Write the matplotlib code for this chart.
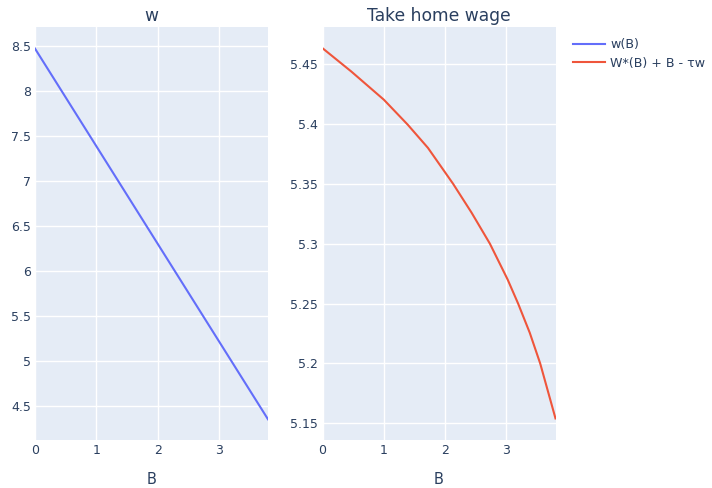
import numpy as np
import matplotlib
matplotlib.use("Agg")
import matplotlib.pyplot as plt
from matplotlib.ticker import FuncFormatter
from matplotlib.lines import Line2D

# Data
B_w = [0.0, 3.8]
w_vals = [8.47, 4.35]

B_th = [0.0, 0.47, 1.0, 1.39, 1.72, 2.13, 2.43, 2.73, 3.02, 3.19, 3.38, 3.55, 3.8]
th_vals = [5.4633, 5.4438, 5.4203, 5.3994, 5.380, 5.350, 5.326, 5.300, 5.270, 5.250, 5.2256, 5.200, 5.154]

x_ticks = [0, 1, 2, 3]
y1_ticks = [4.5, 5, 5.5, 6, 6.5, 7, 7.5, 8, 8.5]
y2_ticks = [5.15, 5.2, 5.25, 5.3, 5.35, 5.4, 5.45]

titles = ["w", "Take home wage"]
labels = ["w(B)", "W*(B) + B - τw"]

BG = "#E5ECF6"
TXT = "#2a3f5f"
C1 = "#636EFA"
C2 = "#EF553B"

plt.rcParams['font.family'] = ['DejaVu Sans']

fig = plt.figure(figsize=(7.12, 4.88), dpi=100)
ax1 = fig.add_axes([35/712, 1-440/488, 233/712, 413/488])
ax2 = fig.add_axes([322.5/712, 1-440/488, 233/712, 413/488])

fmt = FuncFormatter(lambda v, p: ('%g' % round(v, 4)))

for ax in (ax1, ax2):
    ax.set_facecolor(BG)
    for s in ax.spines.values():
        s.set_visible(False)
    ax.grid(True, color="white", linewidth=1.0)
    ax.set_axisbelow(True)
    ax.tick_params(length=0, colors=TXT, labelsize=9)
    ax.tick_params(axis='x', pad=3)
    ax.tick_params(axis='y', pad=3)
    ax.set_xlim(0, 3.8)
    ax.set_xticks(x_ticks)
    ax.yaxis.set_major_formatter(fmt)
    ax.set_xlabel("B", color=TXT, fontsize=10.5, labelpad=11)

ax1.plot(B_w, w_vals, color=C1, linewidth=1.5)
ax1.set_ylim(4.12, 8.71)
ax1.set_yticks(y1_ticks)
ax1.set_title(titles[0], color=TXT, fontsize=12.3, pad=4)

ax2.plot(B_th, th_vals, color=C2, linewidth=1.5)
ax2.set_ylim(5.136, 5.481)
ax2.set_yticks(y2_ticks)
ax2.set_title(titles[1], color=TXT, fontsize=12.3, pad=4)

handles = [Line2D([0], [0], color=C1, linewidth=1.5),
           Line2D([0], [0], color=C2, linewidth=1.5)]
leg = fig.legend(handles, labels, loc="upper left", bbox_to_anchor=(568/712, 1-33/488),
                 frameon=False, fontsize=9.1, handlelength=2.5, handletextpad=0.45,
                 labelspacing=0.45, borderaxespad=0)
for t in leg.get_texts():
    t.set_color(TXT)

fig.savefig("out.png", dpi=100)
